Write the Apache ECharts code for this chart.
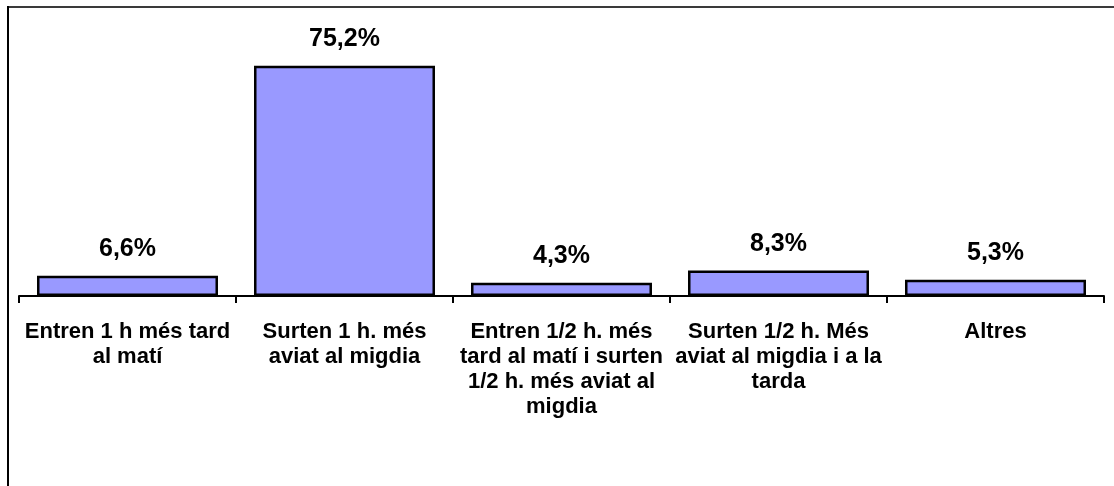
<!DOCTYPE html>
<html>
<head>
    <meta charset="utf-8">
    <title>Horari</title>
    <script src="https://cdn.jsdelivr.net/npm/echarts@6/dist/echarts.min.js"></script>
    <style>
        html, body { margin: 0; padding: 0; background: #fff; }
        #chart { width: 1114px; height: 486px; }
    </style>
</head>
<body>
<div id="chart"></div>
<script>
    // categories (line breaks as in the original picture)
    var categories = [
        'Entren 1 h més tard\nal matí',
        'Surten 1 h. més\naviat al migdia',
        'Entren 1/2 h. més\ntard al matí i surten\n1/2 h. més aviat al\nmigdia',
        'Surten 1/2 h. Més\naviat al migdia i a la\ntarda',
        'Altres'
    ];
    var percentages = [6.6, 75.2, 4.3, 8.3, 5.3];

    var chart = echarts.init(document.getElementById('chart'), null, {renderer: 'canvas'});

    var option = {
        animation: false,
        backgroundColor: '#ffffff',
        textStyle: {fontFamily: '"Liberation Sans", Arial, sans-serif'},
        grid: {left: 19, right: 10, top: 51, bottom: 190},
        xAxis: {
            type: 'category',
            data: categories,
            axisLine: {show: true, lineStyle: {color: '#000', width: 2}},
            axisTick: {show: true, length: 7, lineStyle: {color: '#000', width: 2}},
            axisLabel: {
                interval: 0,
                margin: 23,
                color: '#000',
                fontSize: 22,
                fontWeight: 'bold',
                lineHeight: 25,
                align: 'center'
            }
        },
        yAxis: {
            type: 'value',
            min: 0,
            max: 80,
            show: false
        },
        series: [{
            type: 'bar',
            data: percentages,
            barCategoryGap: '16.6%',
            itemStyle: {color: '#9999ff', borderColor: '#000', borderWidth: 2.5},
            label: {
                show: true,
                position: 'top',
                distance: 14,
                color: '#000',
                fontSize: 25,
                fontWeight: 'bold',
                formatter: function (p) {
                    return p.value.toFixed(1).replace('.', ',') + '%';
                }
            }
        }],
        graphic: [
            {type: 'line', shape: {x1: 8, y1: 7, x2: 1114, y2: 7}, style: {stroke: '#3a3a3a', lineWidth: 2}},
            {type: 'line', shape: {x1: 8, y1: 6, x2: 8, y2: 486}, style: {stroke: '#000', lineWidth: 2}}
        ]
    };
    chart.setOption(option);
</script>
</body>
</html>
